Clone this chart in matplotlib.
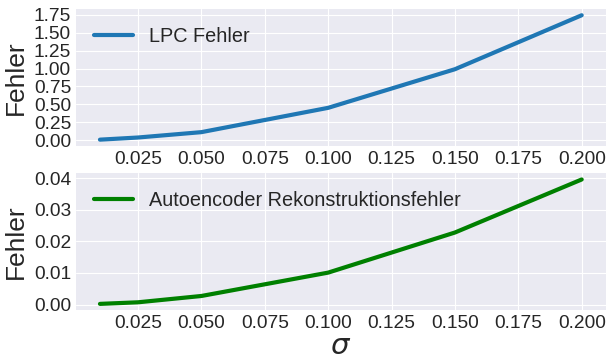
import numpy as np
import matplotlib.pyplot as plt

plt.style.use("seaborn-v0_8-darkgrid")
plt.rcParams["font.family"] = ["Liberation Sans", "DejaVu Sans"]

# Rauschstärke und Fehlerwerte
sigma = [0.01, 0.025, 0.05, 0.1, 0.15, 0.2]
lpc_fehler = [0.005, 0.035, 0.11, 0.45, 0.99, 1.745]
ae_fehler = [0.0002, 0.0007, 0.0027, 0.0101, 0.0228, 0.0396]

fig, (ax1, ax2) = plt.subplots(2, 1, figsize=(6.07, 3.61), dpi=100)

ax1.plot(sigma, lpc_fehler, color="#1f77b4", linewidth=3, label="LPC Fehler")
ax1.set_ylabel("Fehler", fontsize=19)
ax1.legend(loc="upper left", fontsize=14.3)
ax1.tick_params(labelsize=13.8)
ax1.set_yticks(np.arange(0, 1.76, 0.25))

ax2.plot(sigma, ae_fehler, color="green", linewidth=3, label="Autoencoder Rekonstruktionsfehler")
ax2.set_ylabel("Fehler", fontsize=19)
ax2.set_xlabel(r"$\sigma$", fontsize=21, labelpad=0)
ax2.legend(loc="upper left", fontsize=14.3)
ax2.tick_params(labelsize=13.8)
ax2.set_yticks(np.arange(0, 0.041, 0.01))

fig.subplots_adjust(left=0.125, right=0.998, top=0.975, bottom=0.141, hspace=0.2)
plt.savefig("out.png")
plt.close()
